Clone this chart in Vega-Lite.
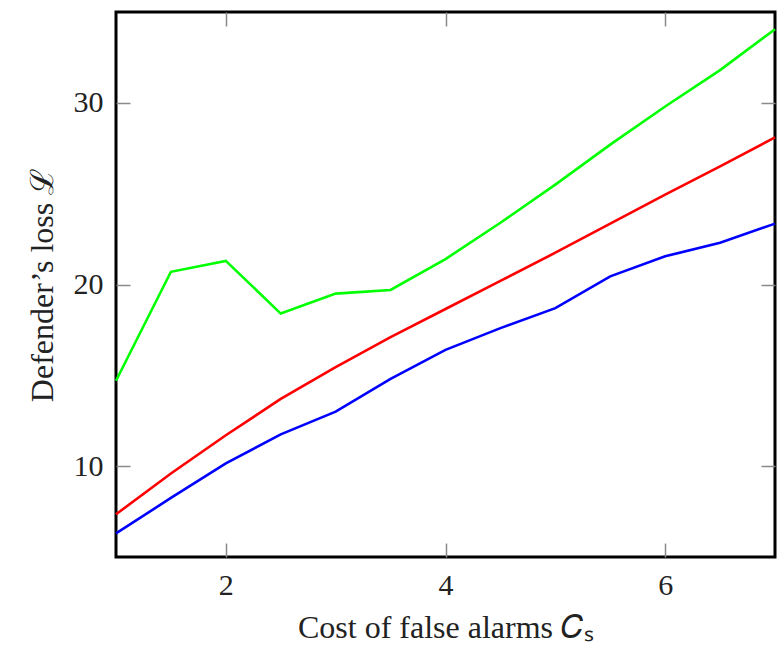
{
  "$schema": "https://vega.github.io/schema/vega-lite/v6.json",
  "width": 659,
  "height": 545,
  "autosize": {"type": "none"},
  "padding": {"left": 116, "top": 12, "right": 2, "bottom": 89},
  "background": "white",
  "config": {
    "view": {"stroke": "black", "strokeWidth": 3},
    "font": "Liberation Serif",
    "axis": {
      "domain": false,
      "grid": false,
      "tickColor": "#8a8a8a",
      "tickWidth": 1.5,
      "tickSize": -14,
      "labelFont": "Liberation Serif",
      "labelFontSize": 30,
      "labelColor": "#222222",
      "titleFont": "Liberation Serif",
      "titleFontSize": 32,
      "titleFontWeight": "normal",
      "titleColor": "#222222"
    }
  },
  "data": {
    "values": [
      {"cost": 1, "loss": 14.7, "series": "green"},
      {"cost": 1.5, "loss": 20.7, "series": "green"},
      {"cost": 2, "loss": 21.3, "series": "green"},
      {"cost": 2.5, "loss": 18.4, "series": "green"},
      {"cost": 3, "loss": 19.5, "series": "green"},
      {"cost": 3.5, "loss": 19.7, "series": "green"},
      {"cost": 4, "loss": 21.4, "series": "green"},
      {"cost": 4.5, "loss": 23.4, "series": "green"},
      {"cost": 5, "loss": 25.5, "series": "green"},
      {"cost": 5.5, "loss": 27.7, "series": "green"},
      {"cost": 6, "loss": 29.8, "series": "green"},
      {"cost": 6.5, "loss": 31.8, "series": "green"},
      {"cost": 7, "loss": 34.05, "series": "green"},
      {"cost": 1, "loss": 7.35, "series": "red"},
      {"cost": 1.5, "loss": 9.6, "series": "red"},
      {"cost": 2, "loss": 11.7, "series": "red"},
      {"cost": 2.5, "loss": 13.7, "series": "red"},
      {"cost": 3, "loss": 15.45, "series": "red"},
      {"cost": 3.5, "loss": 17.1, "series": "red"},
      {"cost": 4, "loss": 18.65, "series": "red"},
      {"cost": 4.5, "loss": 20.2, "series": "red"},
      {"cost": 5, "loss": 21.75, "series": "red"},
      {"cost": 5.5, "loss": 23.35, "series": "red"},
      {"cost": 6, "loss": 24.95, "series": "red"},
      {"cost": 6.5, "loss": 26.5, "series": "red"},
      {"cost": 7, "loss": 28.1, "series": "red"},
      {"cost": 1, "loss": 6.3, "series": "blue"},
      {"cost": 1.5, "loss": 8.25, "series": "blue"},
      {"cost": 2, "loss": 10.15, "series": "blue"},
      {"cost": 2.5, "loss": 11.75, "series": "blue"},
      {"cost": 3, "loss": 13.0, "series": "blue"},
      {"cost": 3.5, "loss": 14.8, "series": "blue"},
      {"cost": 4, "loss": 16.4, "series": "blue"},
      {"cost": 4.5, "loss": 17.6, "series": "blue"},
      {"cost": 5, "loss": 18.7, "series": "blue"},
      {"cost": 5.5, "loss": 20.45, "series": "blue"},
      {"cost": 6, "loss": 21.55, "series": "blue"},
      {"cost": 6.5, "loss": 22.3, "series": "blue"},
      {"cost": 7, "loss": 23.35, "series": "blue"}
    ]
  },
  "layer": [
    {
      "mark": {"type": "line", "strokeWidth": 2.6},
      "encoding": {
        "x": {
          "field": "cost", "type": "quantitative",
          "scale": {"domain": [1, 7], "nice": false, "zero": false},
          "axis": {"orient": "bottom", "values": [2, 4, 6], "labelPadding": 27, "titlePadding": 12, "title": "Cost of false alarms 𝐶ₛ"}
        },
        "y": {
          "field": "loss", "type": "quantitative",
          "scale": {"domain": [5, 35], "nice": false, "zero": false},
          "axis": {"orient": "left", "values": [10, 20, 30], "labelPadding": 27, "titlePadding": 14, "title": "Defender’s loss ℒ"}
        },
        "color": {
          "field": "series", "type": "nominal",
          "scale": {"domain": ["green", "red", "blue"], "range": ["#00ff00", "#ff0000", "#0000ff"]},
          "legend": null
        },
        "detail": {"field": "series"}
      }
    },
    {
      "mark": {"type": "line", "opacity": 0},
      "encoding": {
        "x": {
          "field": "cost", "type": "quantitative",
          "scale": {"domain": [1, 7], "nice": false, "zero": false},
          "axis": {"orient": "top", "values": [2, 4, 6], "labels": false, "title": null}
        },
        "y": {
          "field": "loss", "type": "quantitative",
          "scale": {"domain": [5, 35], "nice": false, "zero": false},
          "axis": {"orient": "right", "values": [10, 20, 30], "labels": false, "title": null}
        },
        "detail": {"field": "series"}
      }
    }
  ],
  "resolve": {"axis": {"x": "independent", "y": "independent"}}
}
